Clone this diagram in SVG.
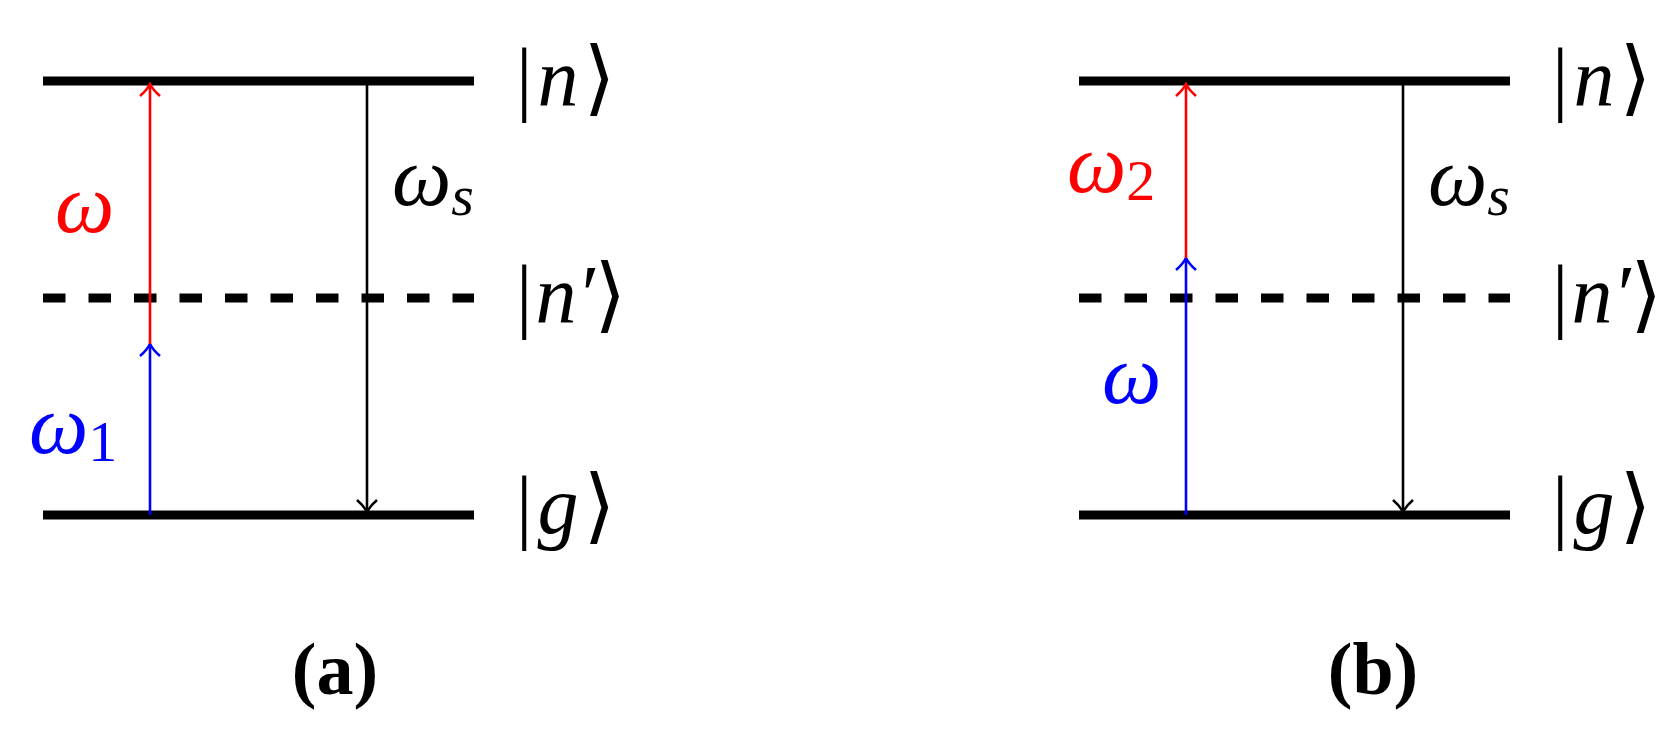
<svg xmlns="http://www.w3.org/2000/svg" width="1671" height="731" viewBox="0 0 1671 731">
<style>
.lvl{stroke:#000;stroke-width:9;fill:none}
.dash{stroke-dasharray:22.5 23}
.arr{stroke-width:2.6;fill:none}
.r{stroke:#ff0000}.b{stroke:#0000ff}.k{stroke:#000}
.ket{font-family:"Liberation Serif","DejaVu Serif",serif;font-size:82px;fill:#000;letter-spacing:5px}
.tight{letter-spacing:0px}
.it{font-style:italic}
.w{font-family:"Liberation Serif","DejaVu Serif",serif;font-style:italic;font-size:84px}
.sub{font-family:"Liberation Serif","DejaVu Serif",serif;font-size:58px}
.cap{font-family:"Liberation Serif","DejaVu Serif",serif;font-weight:bold;font-size:74px;text-anchor:middle}
</style>
<defs>
<marker id="hr" markerUnits="userSpaceOnUse" viewBox="-14 -12 16 24" markerWidth="16" markerHeight="24" refX="0" refY="0" orient="auto"><path d="M-12,-10 C-6,-3 -2,-1 0,0 C-2,1 -6,3 -12,10" stroke="#ff0000" stroke-width="2.6" fill="none"/></marker>
<marker id="hb" markerUnits="userSpaceOnUse" viewBox="-14 -12 16 24" markerWidth="16" markerHeight="24" refX="0" refY="0" orient="auto"><path d="M-12,-10 C-6,-3 -2,-1 0,0 C-2,1 -6,3 -12,10" stroke="#0000ff" stroke-width="2.6" fill="none"/></marker>
<marker id="hk" markerUnits="userSpaceOnUse" viewBox="-14 -12 16 24" markerWidth="16" markerHeight="24" refX="0" refY="0" orient="auto"><path d="M-12,-10 C-6,-3 -2,-1 0,0 C-2,1 -6,3 -12,10" stroke="#000" stroke-width="2.6" fill="none"/></marker>
</defs>
<rect width="1671" height="731" fill="#fff"/>

<g id="panel-a-levels">
<g id="a-n"><line class="lvl" x1="43" y1="81" x2="474" y2="81"/><text class="ket" x="516" y="105">|<tspan class="it">n</tspan>⟩</text></g>
<g id="a-np"><line class="lvl dash" x1="43" y1="298" x2="474" y2="298"/><text class="ket tight" x="516" y="322">|<tspan class="it" dx="3">n′</tspan>⟩</text></g>
<g id="a-g"><line class="lvl" x1="43" y1="515" x2="474" y2="515"/><text class="ket" x="516" y="533">|<tspan class="it">g</tspan>⟩</text></g>
</g>

<g id="panel-b-levels">
<g id="b-n"><line class="lvl" x1="1079" y1="81" x2="1510" y2="81"/><text class="ket" x="1552" y="105">|<tspan class="it">n</tspan>⟩</text></g>
<g id="b-np"><line class="lvl dash" x1="1079" y1="298" x2="1510" y2="298"/><text class="ket tight" x="1552" y="322">|<tspan class="it" dx="3">n′</tspan>⟩</text></g>
<g id="b-g"><line class="lvl" x1="1079" y1="515" x2="1510" y2="515"/><text class="ket" x="1552" y="533">|<tspan class="it">g</tspan>⟩</text></g>
</g>

<g id="connectors">
<line class="arr b" x1="150" y1="515" x2="150" y2="344" marker-end="url(#hb)"/>
<line class="arr r" x1="150" y1="344" x2="150" y2="84" marker-end="url(#hr)"/>
<line class="arr k" x1="367" y1="81" x2="367" y2="512" marker-end="url(#hk)"/>
<line class="arr b" x1="1186" y1="515" x2="1186" y2="258" marker-end="url(#hb)"/>
<line class="arr r" x1="1186" y1="258" x2="1186" y2="84" marker-end="url(#hr)"/>
<line class="arr k" x1="1403" y1="81" x2="1403" y2="512" marker-end="url(#hk)"/>
</g>

<g id="labels">
<text class="w" x="55" y="232" fill="#ff0000">ω</text>
<text x="29" y="453" fill="#0000ff"><tspan class="w">ω</tspan><tspan class="sub" dy="8">1</tspan></text>
<text x="392" y="205" fill="#000"><tspan class="w">ω</tspan><tspan class="w" style="font-size:58px" dy="10">s</tspan></text>
<text x="1067" y="192" fill="#ff0000"><tspan class="w">ω</tspan><tspan class="sub" dy="8">2</tspan></text>
<text class="w" x="1102" y="403" fill="#0000ff">ω</text>
<text x="1428" y="205" fill="#000"><tspan class="w">ω</tspan><tspan class="w" style="font-size:58px" dy="10">s</tspan></text>
<text class="cap" x="335" y="694">(a)</text>
<text class="cap" x="1373" y="694">(b)</text>
</g>
</svg>
